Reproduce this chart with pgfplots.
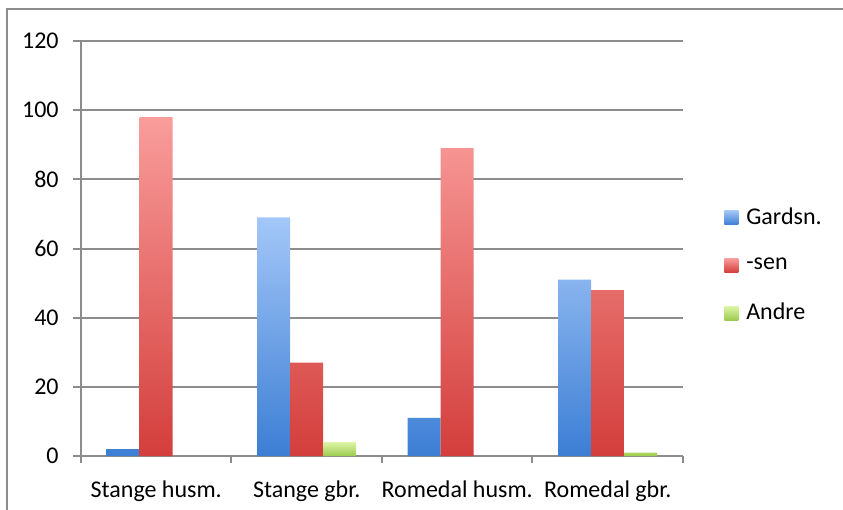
\documentclass[border=0pt]{standalone}
\usepackage{pgfplots}
\pgfplotsset{compat=1.18}
\usepackage{fontspec}
\setmainfont{Carlito}
\definecolor{gridgray}{HTML}{8C8C8C}
\definecolor{btop}{HTML}{A3C7F8}
\definecolor{bbot}{HTML}{3C7ED4}
\definecolor{rtop}{HTML}{F99D9B}
\definecolor{rbot}{HTML}{D33E3B}
\definecolor{gtop}{HTML}{DDF4A6}
\definecolor{gbot}{HTML}{9CCB4E}
\begin{document}
\fontsize{12}{14}\selectfont
\begin{tikzpicture}
\useasboundingbox (0,0) rectangle (421.5pt,255pt);
\draw[gridgray, line width=1pt] (3.5pt,-5pt) -- (3.5pt,250.5pt) -- (430pt,250.5pt);
\begin{axis}[
  at={(40.5pt,27pt)}, anchor=south west,
  scale only axis, width=301pt, height=207.5pt,
  ybar, bar width=16.5pt, ybar=0pt,
  xmin=-0.5, xmax=3.5, ymin=0, ymax=120,
  xtick={0,1,2,3},
  xticklabels={Stange husm., Stange gbr., Romedal husm., Romedal gbr.},
  major x tick style={draw=none},
  minor xtick={-0.5,0.5,1.5,2.5,3.5},
  ytick={0,20,...,120},
  ymajorgrids, grid style={gridgray, line width=1pt},
  axis x line*=bottom, axis y line*=left,
  axis line style={gridgray, line width=1pt, -},
  tick style={gridgray, line width=1pt},
  tick align=outside, major tick length=4pt, minor tick length=3.5pt,
  /pgf/number format/assume math mode=true,
  ticklabel style={font=\fontsize{12}{14}\selectfont, text=black},
  yticklabel style={xshift=-3pt},
  xticklabel style={yshift=-4pt},
  legend style={at={(1.068,0.607)}, anchor=north west, draw=none, fill=none,
    inner sep=0pt, row sep=12pt, font=\fontsize{12}{14}\selectfont,
    nodes={inner sep=1.5pt}},
  legend cell align=left,
]
\addplot[draw=none, top color=btop, bottom color=bbot,
  legend image code/.code={\shade[top color=btop, bottom color=bbot] (0pt,-3.5pt) rectangle (7pt,3.5pt); \path (9.5pt,0pt);}]
  coordinates {(0,2) (1,69) (2,11) (3,51)};
\addplot[draw=none, top color=rtop, bottom color=rbot,
  legend image code/.code={\shade[top color=rtop, bottom color=rbot] (0pt,-3.5pt) rectangle (7pt,3.5pt); \path (9.5pt,0pt);}]
  coordinates {(0,98) (1,27) (2,89) (3,48)};
\addplot[draw=none, top color=gtop, bottom color=gbot,
  legend image code/.code={\shade[top color=gtop, bottom color=gbot] (0pt,-3.5pt) rectangle (7pt,3.5pt); \path (9.5pt,0pt);}]
  coordinates {(1,4) (3,1)};
\legend{Gardsn., -sen, Andre}
\end{axis}
\end{tikzpicture}
\end{document}
